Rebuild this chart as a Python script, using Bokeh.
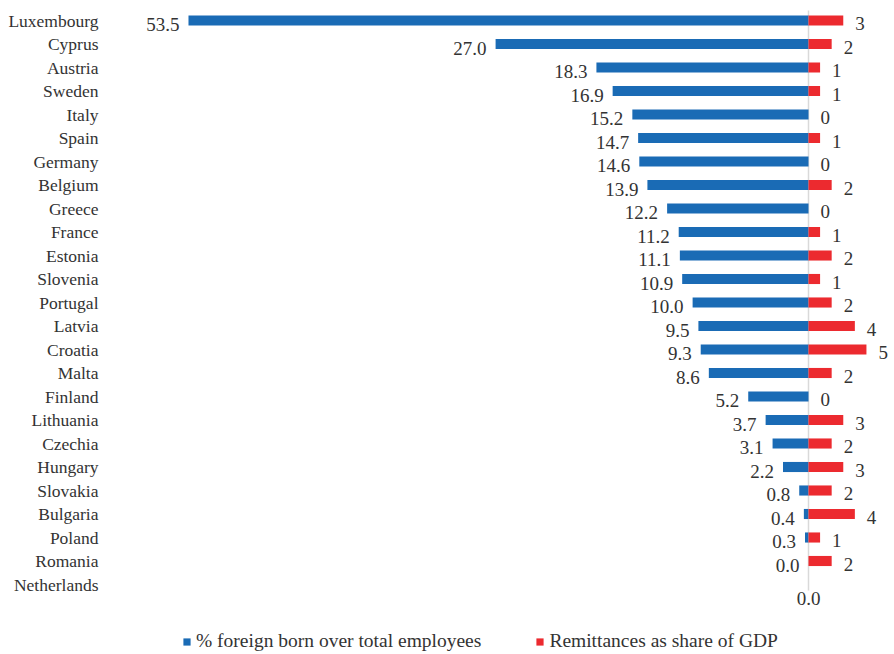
from bokeh.plotting import figure
from bokeh.models import ColumnDataSource, Range1d, FixedTicker, Legend, LegendItem
from bokeh.core.properties import value
from bokeh.embed import file_html
from bokeh.resources import INLINE

countries = ["Luxembourg", "Cyprus", "Austria", "Sweden", "Italy", "Spain", "Germany",
             "Belgium", "Greece", "France", "Estonia", "Slovenia", "Portugal", "Latvia",
             "Croatia", "Malta", "Finland", "Lithuania", "Czechia", "Hungary", "Slovakia",
             "Bulgaria", "Poland", "Romania", "Netherlands"]
foreign_born = [53.5, 27.0, 18.3, 16.9, 15.2, 14.7, 14.6, 13.9, 12.2, 11.2, 11.1, 10.9,
                10.0, 9.5, 9.3, 8.6, 5.2, 3.7, 3.1, 2.2, 0.8, 0.4, 0.3, 0.0, 0.0]
remittances = [3, 2, 1, 1, 0, 1, 0, 2, 0, 1, 2, 1, 2, 4, 5, 2, 0, 3, 2, 3, 2, 4, 1, 2, None]

BLUE = "#1a6bb5"
RED = "#ec2a2f"
TXT = "#333333"
FONT = "Liberation Serif"

n = len(countries)
ypos = [n - 1 - i for i in range(n)]

src_blue = ColumnDataSource(dict(y=ypos, left=[-v for v in foreign_born], right=[0] * n))
src_blue_lbl = ColumnDataSource(dict(y=ypos[:-1], x=[-v for v in foreign_born[:-1]],
                                     label=[f"{v:.1f}" for v in foreign_born[:-1]]))
src_blue_last = ColumnDataSource(dict(y=ypos[-1:], x=[0],
                                      label=[f"{foreign_born[-1]:.1f}"]))
rm_y = [y for y, r in zip(ypos, remittances) if r is not None]
rm_v = [r for r in remittances if r is not None]
src_red = ColumnDataSource(dict(y=rm_y, left=[0] * len(rm_v), right=rm_v,
                                label=[f"{r:.0f}" for r in rm_v]))

W, H = 892, 652
px_per_unit = 11.589
frame_left = 106
zero_px = 808
frame_right = W
row_px = 23.5
top_px = 20

x_start = -(zero_px - frame_left) / px_per_unit
x_end = (frame_right - zero_px) / px_per_unit
y_end = (n - 1) + top_px / row_px
y_start = y_end - H / row_px

p = figure(width=W, height=H, output_backend="svg", toolbar_location=None,
           x_range=Range1d(x_start, x_end), y_range=Range1d(y_start, y_end),
           x_axis_location=None, min_border_left=frame_left, min_border_right=0,
           min_border_top=0, min_border_bottom=0, outline_line_color=None)
p.grid.visible = False

yax = p.yaxis[0]
yax.ticker = FixedTicker(ticks=ypos)
yax.major_label_overrides = {y: c for y, c in zip(ypos, countries)}
yax.axis_line_color = None
yax.major_tick_line_color = None
yax.minor_tick_line_color = None
yax.major_tick_out = 0
yax.major_tick_in = 0
yax.major_label_standoff = 8
yax.major_label_text_font = FONT
yax.major_label_text_font_size = "17.5px"
yax.major_label_text_color = TXT

# zero line
p.segment(x0=[0], x1=[0], y0=[(n - 1) + 0.43], y1=[-0.26], line_color="#d9d9d9", line_width=1.5)

bh = 0.43
rb = p.hbar(y="y", left="left", right="right", height=bh, source=src_blue,
            fill_color=BLUE, line_color=None)
rr = p.hbar(y="y", left="left", right="right", height=bh, source=src_red,
            fill_color=RED, line_color=None)

p.text(x="x", y="y", text="label", source=src_blue_lbl, text_align="right",
       text_baseline="middle", x_offset=-9, y_offset=4, text_font=value(FONT),
       text_font_size="19px", text_color=TXT)
p.text(x="x", y="y", text="label", source=src_blue_last, text_align="center",
       text_baseline="middle", y_offset=14, text_font=value(FONT),
       text_font_size="19px", text_color=TXT)
p.text(x="right", y="y", text="label", source=src_red, text_align="left",
       text_baseline="middle", x_offset=12, y_offset=3, text_font=value(FONT),
       text_font_size="19px", text_color=TXT)

legend = Legend(items=[LegendItem(label="% foreign born over total employees", renderers=[rb]),
                       LegendItem(label="Remittances as share of GDP", renderers=[rr])],
                location=(76, 0), orientation="horizontal", padding=0, margin=0,
                spacing=54, glyph_width=9, glyph_height=9, label_standoff=5,
                label_height=22, label_text_font=FONT, label_text_font_size="19.5px",
                label_text_color=TXT, border_line_color=None, background_fill_alpha=0)
p.add_layout(legend)

open("out.html", "w").write(file_html(p, INLINE))
